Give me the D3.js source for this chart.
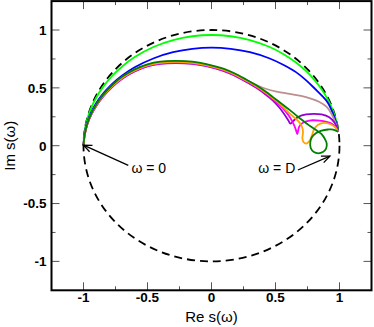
<!DOCTYPE html>
<html><head><meta charset="utf-8">
<script src="https://cdn.jsdelivr.net/npm/d3@7"></script>
<style>body{margin:0;background:#fff}svg{display:block}</style>
</head><body>
<svg id="c" width="374" height="327"></svg>
<script>
// tick values
const majorTicks = [-1, -0.5, 0, 0.5, 1];
const minorTicks = [-0.75, -0.25, 0.25, 0.75];
const tickLabels = ["-1", "-0.5", "0", "0.5", "1"];

// series: [Re, Im] pairs
const lightGreen = [[-1,0],[-0.99,0.135],[-0.97,0.233],[-0.94,0.327],[-0.90,0.417],[-0.85,0.504],[-0.78,0.599],[-0.70,0.683],[-0.60,0.766],[-0.45,0.855],[-0.30,0.913],[-0.15,0.946],[0,0.957],[0.15,0.946],[0.30,0.913],[0.45,0.855],[0.56,0.793],[0.66,0.719],[0.74,0.644],[0.81,0.561],[0.86,0.488],[0.91,0.397],[0.95,0.299],[0.975,0.213],[0.99,0.135]];
const blue = [[-1,0],[-0.99,0.119],[-0.97,0.206],[-0.94,0.289],[-0.90,0.369],[-0.85,0.446],[-0.78,0.53],[-0.70,0.605],[-0.60,0.678],[-0.45,0.756],[-0.30,0.808],[-0.15,0.837],[0,0.847],[0.15,0.837],[0.30,0.808],[0.45,0.756],[0.56,0.70],[0.66,0.636],[0.74,0.565],[0.81,0.49],[0.86,0.435],[0.91,0.37],[0.95,0.275],[0.975,0.195],[0.99,0.125]];
const brown = [[-1,0],[-0.99,0.10],[-0.97,0.189],[-0.94,0.273],[-0.90,0.353],[-0.85,0.432],[-0.78,0.517],[-0.70,0.592],[-0.60,0.657],[-0.50,0.70],[-0.40,0.723],[-0.28,0.73],[-0.15,0.722],[-0.04,0.70],[0.08,0.665],[0.17,0.627],[0.27,0.57],[0.35,0.525],[0.43,0.49],[0.51,0.468],[0.61,0.448],[0.70,0.43],[0.77,0.41],[0.84,0.38],[0.90,0.335],[0.94,0.27],[0.965,0.21],[0.98,0.16],[0.99,0.12]];
const purple = [[-1,0],[-0.99,0.097],[-0.97,0.185],[-0.94,0.266],[-0.90,0.344],[-0.85,0.42],[-0.78,0.503],[-0.70,0.577],[-0.60,0.642],[-0.50,0.685],[-0.40,0.708],[-0.28,0.715],[-0.15,0.708],[-0.04,0.688],[0.08,0.652],[0.17,0.612],[0.27,0.553],[0.35,0.50],[0.42,0.445],[0.48,0.39],[0.53,0.33],[0.57,0.27],[0.60,0.22],[0.617,0.19],[0.64,0.215],[0.68,0.25],[0.74,0.27],[0.80,0.275],[0.86,0.27],[0.92,0.245],[0.96,0.20],[0.99,0.13]];
const magenta = [[-1,0],[-0.99,0.098],[-0.97,0.186],[-0.94,0.268],[-0.90,0.346],[-0.85,0.423],[-0.78,0.507],[-0.70,0.581],[-0.60,0.646],[-0.50,0.689],[-0.40,0.712],[-0.28,0.719],[-0.15,0.712],[-0.04,0.692],[0.08,0.656],[0.17,0.617],[0.27,0.559],[0.35,0.508],[0.42,0.455],[0.48,0.40],[0.54,0.345],[0.58,0.295],[0.61,0.25],[0.64,0.19],[0.66,0.135],[0.67,0.10],[0.685,0.165],[0.71,0.195],[0.74,0.21],[0.79,0.22],[0.846,0.216],[0.90,0.205],[0.94,0.19],[0.97,0.16],[0.99,0.12]];
const orange = [[-1,0],[-0.99,0.099],[-0.97,0.187],[-0.94,0.27],[-0.90,0.349],[-0.85,0.427],[-0.78,0.511],[-0.70,0.586],[-0.60,0.651],[-0.50,0.694],[-0.40,0.717],[-0.28,0.724],[-0.15,0.717],[-0.04,0.697],[0.08,0.661],[0.17,0.622],[0.27,0.564],[0.35,0.514],[0.42,0.462],[0.48,0.41],[0.54,0.355],[0.59,0.30],[0.64,0.25],[0.68,0.21],[0.705,0.17],[0.715,0.12],[0.71,0.064],[0.72,0.03],[0.74,0.018],[0.765,0.04],[0.785,0.09],[0.80,0.14],[0.83,0.18],[0.885,0.198],[0.93,0.185],[0.965,0.16],[0.99,0.12]];
const darkGreen = [[-1,0],[-0.99,0.10],[-0.97,0.19],[-0.94,0.275],[-0.90,0.355],[-0.85,0.435],[-0.78,0.52],[-0.70,0.595],[-0.60,0.66],[-0.50,0.703],[-0.40,0.726],[-0.28,0.733],[-0.15,0.726],[-0.04,0.706],[0.08,0.67],[0.17,0.631],[0.27,0.573],[0.35,0.522],[0.42,0.47],[0.48,0.42],[0.55,0.36],[0.61,0.31],[0.67,0.255],[0.716,0.215],[0.76,0.178],[0.79,0.155],[0.83,0.125],[0.86,0.1],[0.885,0.06],[0.90,0.02],[0.895,-0.025],[0.87,-0.055],[0.835,-0.066],[0.80,-0.055],[0.775,-0.02],[0.772,0.03],[0.785,0.075],[0.815,0.108],[0.86,0.13],[0.91,0.14],[0.95,0.14],[0.99,0.12]];

const seriesNames = ["lightGreen","blue","brown","purple","magenta","orange","darkGreen"];
const seriesData = [lightGreen, blue, brown, purple, magenta, orange, darkGreen];
const seriesColors = ["#00ff00","#0000ff","#bc8f8f","#9400d3","#ff00ff","#ffa500","#008000"];

// annotations
const annotations = [
  {text: "\u03c9 = 0", from: [-0.65, -0.17], to: [-1, 0.005], tx: -0.49, ty: -0.235},
  {text: "\u03c9 = D", from: [0.675, -0.21], to: [0.925, -0.09], tx: 0.51, ty: -0.235}
];

const svg = d3.select("#c");
const x = d3.scaleLinear().domain([-1.25, 1.25]).range([51.5, 371.5]);
const y = d3.scaleLinear().domain([-1.25, 1.25]).range([290.3, 1.1]);

const defs = svg.append("defs");
defs.append("clipPath").attr("id","clip").append("rect")
  .attr("x", x(-1.25)).attr("y", y(1.25)).attr("width", x(1.25)-x(-1.25)).attr("height", y(-1.25)-y(1.25));

// ticks
const tickG = svg.append("g").attr("stroke","#555").attr("stroke-width",1);
const L = 8, l = 4;
majorTicks.forEach(v => {
  tickG.append("line").attr("x1", x(v)).attr("x2", x(v)).attr("y1", y(-1.25)).attr("y2", y(-1.25)-L);
  tickG.append("line").attr("x1", x(v)).attr("x2", x(v)).attr("y1", y(1.25)).attr("y2", y(1.25)+L);
  tickG.append("line").attr("y1", y(v)).attr("y2", y(v)).attr("x1", x(-1.25)).attr("x2", x(-1.25)+L);
  tickG.append("line").attr("y1", y(v)).attr("y2", y(v)).attr("x1", x(1.25)).attr("x2", x(1.25)-L);
});
minorTicks.forEach(v => {
  tickG.append("line").attr("x1", x(v)).attr("x2", x(v)).attr("y1", y(-1.25)).attr("y2", y(-1.25)-l);
  tickG.append("line").attr("x1", x(v)).attr("x2", x(v)).attr("y1", y(1.25)).attr("y2", y(1.25)+l);
  tickG.append("line").attr("y1", y(v)).attr("y2", y(v)).attr("x1", x(-1.25)).attr("x2", x(-1.25)+l);
  tickG.append("line").attr("y1", y(v)).attr("y2", y(v)).attr("x1", x(1.25)).attr("x2", x(1.25)-l);
});

// tick labels
const font = "'Liberation Sans', Arial, Helvetica, sans-serif";
majorTicks.forEach((v,i) => {
  svg.append("text").attr("x", x(v)).attr("y", 302).attr("text-anchor","middle")
    .attr("font-family", font).attr("font-weight","bold").attr("font-size", 13.5).text(tickLabels[i]);
  svg.append("text").attr("x", 46.5).attr("y", y(v)+4.8).attr("text-anchor","end")
    .attr("font-family", font).attr("font-weight","bold").attr("font-size", 13.5).text(tickLabels[i]);
});

// axis titles
svg.append("text").attr("x", x(0)).attr("y", 321.5).attr("text-anchor","middle")
  .attr("font-family", font).attr("font-size", 15).text("Re s(\u03c9)");
svg.append("text").attr("transform", `translate(15,${y(0)}) rotate(-90)`).attr("text-anchor","middle")
  .attr("font-family", font).attr("font-size", 15).text("Im s(\u03c9)");

const plot = svg.append("g").attr("clip-path","url(#clip)");

// unit circle (dashed)
plot.append("ellipse").attr("cx", x(0)).attr("cy", y(0))
  .attr("rx", x(1)-x(0)).attr("ry", y(0)-y(1))
  .attr("fill","none").attr("stroke","#000").attr("stroke-width",1.8).attr("stroke-dasharray","8,5");

const line = d3.line().x(d => x(d[0])).y(d => y(d[1])).curve(d3.curveCatmullRom.alpha(0.5));
seriesData.forEach((s,i) => {
  plot.append("path").datum(s).attr("d", line).attr("fill","none")
    .attr("stroke", seriesColors[i]).attr("stroke-width", 1.8).attr("class", seriesNames[i]);
});

// annotations
annotations.forEach(a => {
  const x1 = x(a.from[0]), y1 = y(a.from[1]), x2 = x(a.to[0]), y2 = y(a.to[1]);
  svg.append("line").attr("x1",x1).attr("y1",y1).attr("x2",x2).attr("y2",y2).attr("stroke","#000").attr("stroke-width",1.3);
  const ang = Math.atan2(y1-y2, x1-x2), h = 9, w = 0.4;
  svg.append("path").attr("d", `M${x2+h*Math.cos(ang+w)},${y2+h*Math.sin(ang+w)}L${x2},${y2}L${x2+h*Math.cos(ang-w)},${y2+h*Math.sin(ang-w)}`)
    .attr("fill","none").attr("stroke","#000").attr("stroke-width",1.3);
  svg.append("text").attr("x", x(a.tx)).attr("y", y(a.ty)).attr("text-anchor","middle")
    .attr("font-family", font).attr("font-size", 14).text(a.text);
});

// frame
svg.append("rect").attr("x", x(-1.25)).attr("y", y(1.25)).attr("width", x(1.25)-x(-1.25)).attr("height", y(-1.25)-y(1.25))
  .attr("fill","none").attr("stroke","#000").attr("stroke-width",2);
</script>
</body></html>
